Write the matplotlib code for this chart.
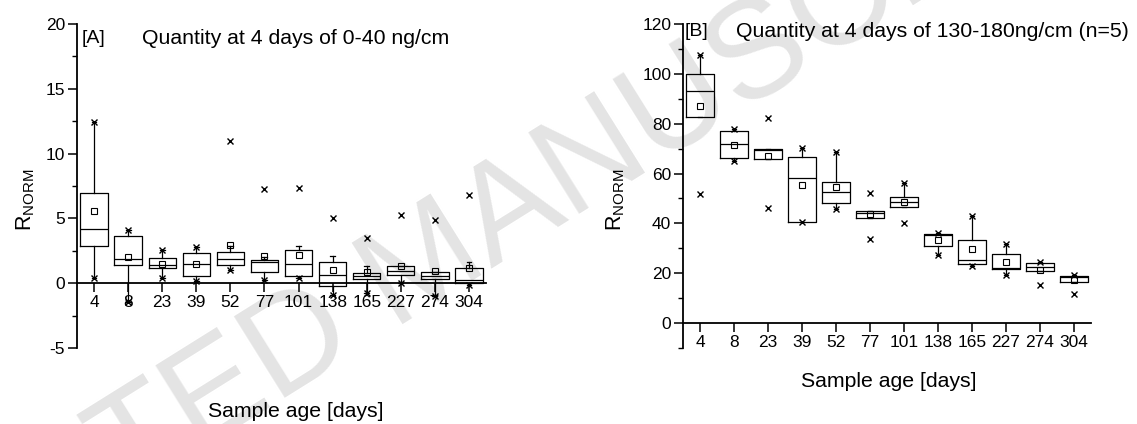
import numpy as np
import matplotlib
matplotlib.use("Agg")
import matplotlib.pyplot as plt
from matplotlib.ticker import MultipleLocator

plt.rcParams["font.family"] = ["Liberation Sans", "DejaVu Sans"]
plt.rcParams["mathtext.fontset"] = "custom"
plt.rcParams["mathtext.rm"] = "Liberation Sans"
plt.rcParams["axes.unicode_minus"] = False

# ---------------- Data ----------------
ages = ["4", "8", "23", "39", "52", "77", "101", "138", "165", "227", "274", "304"]

# [A] 0-40 ng/cm
a_q1 = [2.89, 1.39, 1.14, 0.59, 1.42, 0.88, 0.57, -0.23, 0.29, 0.62, 0.34, 0.05]
a_med = [4.17, 1.85, 1.39, 1.52, 1.88, 1.60, 1.50, 0.62, 0.57, 0.93, 0.54, 0.21]
a_q3 = [6.95, 3.66, 1.93, 2.32, 2.37, 1.78, 2.53, 1.60, 0.77, 1.34, 0.85, 1.19]
a_mean = [5.54, 2.06, 1.50, 1.47, 2.91, 2.09, 2.14, 1.00, 0.83, 1.31, 0.93, 1.16]
a_wlo = [0.41, -1.47, 0.42, 0.15, 1.03, 0.26, 0.42, -0.90, -0.72, 0.00, -0.95, -0.15]
a_whi = [12.41, 4.14, 2.60, 2.76, 2.90, 2.00, 2.89, 2.09, 1.31, 1.34, 0.85, 1.60]
a_min = [0.41, -1.47, 0.42, 0.15, 1.03, 0.26, 0.42, -0.90, -0.72, 0.00, -0.95, -0.15]
a_max = [12.41, 4.14, 2.60, 2.76, 10.95, 7.24, 7.34, 5.02, 3.51, 5.25, 4.84, 6.83]

# [B] 130-180 ng/cm
b_q1 = [82.5, 66.4, 65.7, 40.6, 48.1, 42.3, 46.6, 30.9, 23.6, 21.8, 20.9, 16.6]
b_med = [93.0, 71.9, 69.5, 58.4, 52.6, 44.0, 48.7, 35.5, 25.4, 22.2, 22.5, 18.5]
b_q3 = [100.0, 77.1, 70.0, 66.7, 56.8, 45.0, 50.6, 35.9, 33.2, 27.6, 24.0, 19.0]
b_mean = [87.0, 71.6, 66.9, 55.3, 54.5, 43.6, 48.5, 33.3, 29.6, 24.5, 21.4, 17.2]
b_wlo = [82.5, 64.9, 65.7, 40.6, 45.8, 42.3, 46.6, 27.3, 22.9, 19.2, 20.9, 16.6]
b_whi = [107.5, 78.0, 70.0, 70.2, 68.8, 45.0, 56.3, 36.3, 42.8, 31.7, 24.4, 19.2]
b_min = [51.9, 64.9, 46.3, 40.6, 45.8, 33.6, 40.2, 27.3, 22.9, 19.2, 15.1, 11.8]
b_max = [107.5, 78.0, 82.3, 70.2, 68.8, 52.2, 56.3, 36.3, 42.8, 31.7, 24.4, 19.2]


def box_panel(ax, q1, med, q3, mean, wlo, whi, mn, mx, ylim, major, minor):
    pos = np.arange(len(ages))
    stats = []
    for i in range(len(ages)):
        stats.append(dict(med=med[i], q1=q1[i], q3=q3[i], whislo=wlo[i],
                          whishi=whi[i], mean=mean[i], fliers=[]))
    lw = 0.9
    ax.bxp(stats, positions=pos, widths=0.8, showmeans=True, showfliers=False,
           capwidths=0.14,
           boxprops=dict(color="black", lw=lw),
           medianprops=dict(color="black", lw=lw),
           whiskerprops=dict(color="black", lw=lw),
           capprops=dict(color="black", lw=lw),
           meanprops=dict(marker="s", markerfacecolor="none",
                          markeredgecolor="black", markersize=4.5,
                          markeredgewidth=0.8))
    # min / max crosses
    ax.plot(pos, mn, "x", color="black", ms=5, mew=1.0, ls="none")
    ax.plot(pos, mx, "x", color="black", ms=5, mew=1.0, ls="none")

    ax.set_xlim(-0.5, 11.5)
    ax.set_ylim(*ylim)
    ax.set_xticks(pos)
    ax.set_xticklabels(ages)
    ax.yaxis.set_major_locator(MultipleLocator(major))
    ax.yaxis.set_minor_locator(MultipleLocator(minor))
    ax.spines["top"].set_visible(False)
    ax.spines["right"].set_visible(False)
    ax.spines["bottom"].set_position(("data", 0))
    ax.spines["left"].set_linewidth(1.3)
    ax.spines["bottom"].set_linewidth(1.3)
    ax.tick_params(axis="both", which="major", direction="out", length=6.5,
                   width=1.1, labelsize=12.5, pad=2)
    ax.tick_params(axis="y", which="minor", direction="out", length=3.5, width=1.0)
    ax.patch.set_visible(False)


fig = plt.figure(figsize=(11.37, 4.24), dpi=100)

# watermark
fig.text(0.375, 0.37, "ACCEPTED MANUSCRIPT", fontsize=100, color="#e4e4e4",
         rotation=32, ha="center", va="center", zorder=-1)

ax1 = fig.add_axes([77 / 1137, 1 - 348 / 424, 409 / 1137, 324 / 424])
ax2 = fig.add_axes([683 / 1137, 1 - 348 / 424, 408 / 1137, 324 / 424])

box_panel(ax1, a_q1, a_med, a_q3, a_mean, a_wlo, a_whi, a_min, a_max,
          (-5, 20), 5, 2.5)
box_panel(ax2, b_q1, b_med, b_q3, b_mean, b_wlo, b_whi, b_min, b_max,
          (-10, 120), 20, 10)
ax2.set_yticks([0, 20, 40, 60, 80, 100, 120])

ylab = r"R$_{\mathrm{NORM}}$"
ax1.set_ylabel(ylab, fontsize=15.5)
ax1.yaxis.set_label_coords(-0.097, 0.457)
ax2.set_ylabel(ylab, fontsize=15.5)
ax2.yaxis.set_label_coords(-0.137, 0.457)

ax1.set_xlabel("Sample age [days]", fontsize=15.3)
ax1.xaxis.set_label_coords(0.534, -0.167)
ax2.set_xlabel("Sample age [days]", fontsize=15.3)
ax2.xaxis.set_label_coords(0.505, -0.074)

ax1.text(0.012, 0.955, "[A]", transform=ax1.transAxes, fontsize=14, va="center")
ax1.text(0.158, 0.955, "Quantity at 4 days of 0-40 ng/cm", transform=ax1.transAxes,
         fontsize=15.3, va="center")
ax2.text(0.005, 0.978, "[B]", transform=ax2.transAxes, fontsize=14, va="center")
ax2.text(0.13, 0.978, "Quantity at 4 days of 130-180ng/cm (n=5)",
         transform=ax2.transAxes, fontsize=15.3, va="center")

fig.savefig("out.png", dpi=100)
